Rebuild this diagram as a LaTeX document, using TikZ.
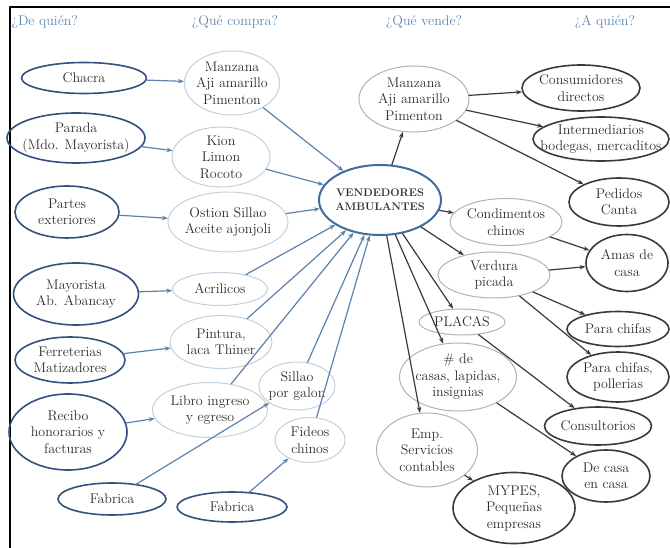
\documentclass[tikz,border=0pt]{standalone}
\usepackage{fontspec}
\usetikzlibrary{shapes.geometric,arrows.meta}

\definecolor{xanhdam}{HTML}{34507F}
\definecolor{xanhnhat}{HTML}{C3CFDC}
\definecolor{xanhvua}{HTML}{3F6D9E}
\definecolor{xammui}{HTML}{5A82AD}
\definecolor{xamnhat}{HTML}{B2B2B2}
\definecolor{xamdam}{HTML}{3A3A3A}
\definecolor{chu}{HTML}{2E2E2E}
\definecolor{tieude}{HTML}{5B86B5}

\begin{document}
\begin{tikzpicture}[x=1pt, y=-1pt, line cap=round, line join=round,
  font=\fontsize{14}{16.5}\selectfont, text=chu,
  hop/.style={ellipse, inner xsep=-14pt, inner ysep=-10pt, align=center},
  origen/.style={hop, draw=xanhdam, line width=1.6pt},
  compra/.style={hop, draw=xanhnhat, line width=1pt},
  centro/.style={hop, draw=xanhvua, line width=2pt, font=\fontsize{11}{14}\selectfont\bfseries},
  vende/.style={hop, draw=xamnhat, line width=1pt},
  cliente/.style={hop, draw=xamdam, line width=1.6pt},
  fazul/.style={draw=xammui, line width=1.2pt, -{Stealth[length=6pt,width=4.5pt]}},
  fgris/.style={draw=xamdam, line width=1.2pt, -{Stealth[length=6pt,width=4.5pt]}},
  cot/.style={text=tieude}]
  \useasboundingbox (0,0) rectangle (670,548);

  % Khung
  \draw[line width=1.6pt] (10,548) -- (10,7) -- (670,7);

  % Tiêu đề các cột
  \node[cot, anchor=west] (T1) at (8,22) {¿De quién?};
  \node[cot] (T2) at (235,22) {¿Qué compra?};
  \node[cot] (T3) at (424,22) {¿Qué vende?};
  \node[cot] (T4) at (605,22) {¿A quién?};

  % Cột 1: nơi mua
  \node[origen, minimum width=125, minimum height=31] (Ch) at (84,78) {Chacra};
  \node[origen, minimum width=138, minimum height=50] (Pa) at (76,138) {Parada\\(Mdo. Mayorista)};
  \node[origen, minimum width=104, minimum height=52] (Pe) at (67,212) {Partes\\exteriores};
  \node[origen, minimum width=125, minimum height=62] (Ma) at (76,294) {Mayorista\\Ab. Abancay};
  \node[origen, minimum width=110, minimum height=46] (Fe) at (70,360) {Ferreterias\\Matizadores};
  \node[origen, minimum width=118, minimum height=76] (Re) at (68,432) {Recibo\\honorarios y\\facturas};
  \node[origen, minimum width=108, minimum height=32] (Fa1) at (112,499) {Fabrica};
  \node[origen, minimum width=110, minimum height=30] (Fa2) at (232,507) {Fabrica};

  % Cột 2: hàng mua
  \node[compra, minimum width=95, minimum height=64] (MzC) at (232,83) {Manzana\\Aji amarillo\\Pimenton};
  \node[compra, minimum width=98, minimum height=60] (Ki) at (221,157) {Kion\\Limon\\Rocoto};
  \node[compra, minimum width=120, minimum height=60] (Os) at (228,222) {Ostion Sillao\\Aceite ajonjoli};
  \node[compra, minimum width=95, minimum height=33] (Ac) at (220,289) {Acrilicos};
  \node[compra, minimum width=102, minimum height=53] (Pi) at (221,342) {Pintura,\\laca Thiner};
  \node[compra, minimum width=115, minimum height=55] (Li) at (210,410) {Libro ingreso\\y egreso};
  \node[compra, minimum width=76, minimum height=48] (Si) at (297,386) {Sillao\\por galon};
  \node[compra, minimum width=70, minimum height=45] (Fi) at (310,440) {Fideos\\chinos};

  % Trung tâm
  \node[centro, minimum width=122, minimum height=70] (V) at (380,200) {VENDEDORES\\AMBULANTES};

  % Cột 3: hàng bán
  \node[vende, minimum width=110, minimum height=66] (MzV) at (414,99) {Manzana\\Aji amarillo\\Pimenton};
  \node[vende, minimum width=112, minimum height=47] (Co) at (506,222) {Condimentos\\chinos};
  \node[vende, minimum width=112, minimum height=46] (Ve) at (494,275) {Verdura\\picada};
  \node[vende, minimum width=86, minimum height=26] (Pl) at (462,322) {PLACAS};
  \node[vende, minimum width=117, minimum height=68] (Ca) at (458,377) {\# de\\casas, lapidas,\\insignias};
  \node[vende, minimum width=101, minimum height=74] (Em) at (427,450) {Emp.\\Servicios\\contables};

  % Cột 4: người mua
  \node[cliente, minimum width=118, minimum height=46] (Cd) at (581,88) {Consumidores\\directos};
  \node[cliente, minimum width=136, minimum height=44] (In) at (601,139) {Intermediarios\\bodegas, mercaditos};
  \node[cliente, minimum width=100, minimum height=48] (Pc) at (619,202) {Pedidos\\Canta};
  \node[cliente, minimum width=82, minimum height=57] (Am) at (627,263) {Amas de\\casa};
  \node[cliente, minimum width=102, minimum height=35] (Ch1) at (618,329) {Para chifas};
  \node[cliente, minimum width=102, minimum height=50] (Ch2) at (618,377) {Para chifas,\\pollerias};
  \node[cliente, minimum width=107, minimum height=38] (Cs) at (598,426) {Consultorios};
  \node[cliente, minimum width=88, minimum height=52] (Dc) at (606,476) {De casa\\en casa};
  \node[cliente, minimum width=122, minimum height=71] (My) at (514,508) {MYPES,\\Pequeñas\\empresas};

  % Mũi tên: nơi mua -> hàng mua -> trung tâm
  \foreach \a/\b in {Ch/MzC, Pa/Ki, Pe/Os, Ma/Ac, Fe/Pi, Re/Li, Fa1/Si, Fa2/Fi}
    \draw[fazul] (\a) -- (\b);
  \foreach \a in {MzC, Ki, Os, Ac, Pi, Li, Si, Fi}
    \draw[fazul] (\a) -- (V);

  % Mũi tên: trung tâm -> hàng bán -> người mua
  \foreach \b in {MzV, Co, Ve, Pl, Ca, Em}
    \draw[fgris] (V) -- (\b);
  \foreach \a/\b in {MzV/Cd, MzV/In, MzV/Pc, Co/Am, Ve/Am, Ve/Ch1, Ve/Ch2, Pl/Cs, Ca/Dc, Em/My}
    \draw[fgris] (\a) -- (\b);
\end{tikzpicture}
\end{document}
